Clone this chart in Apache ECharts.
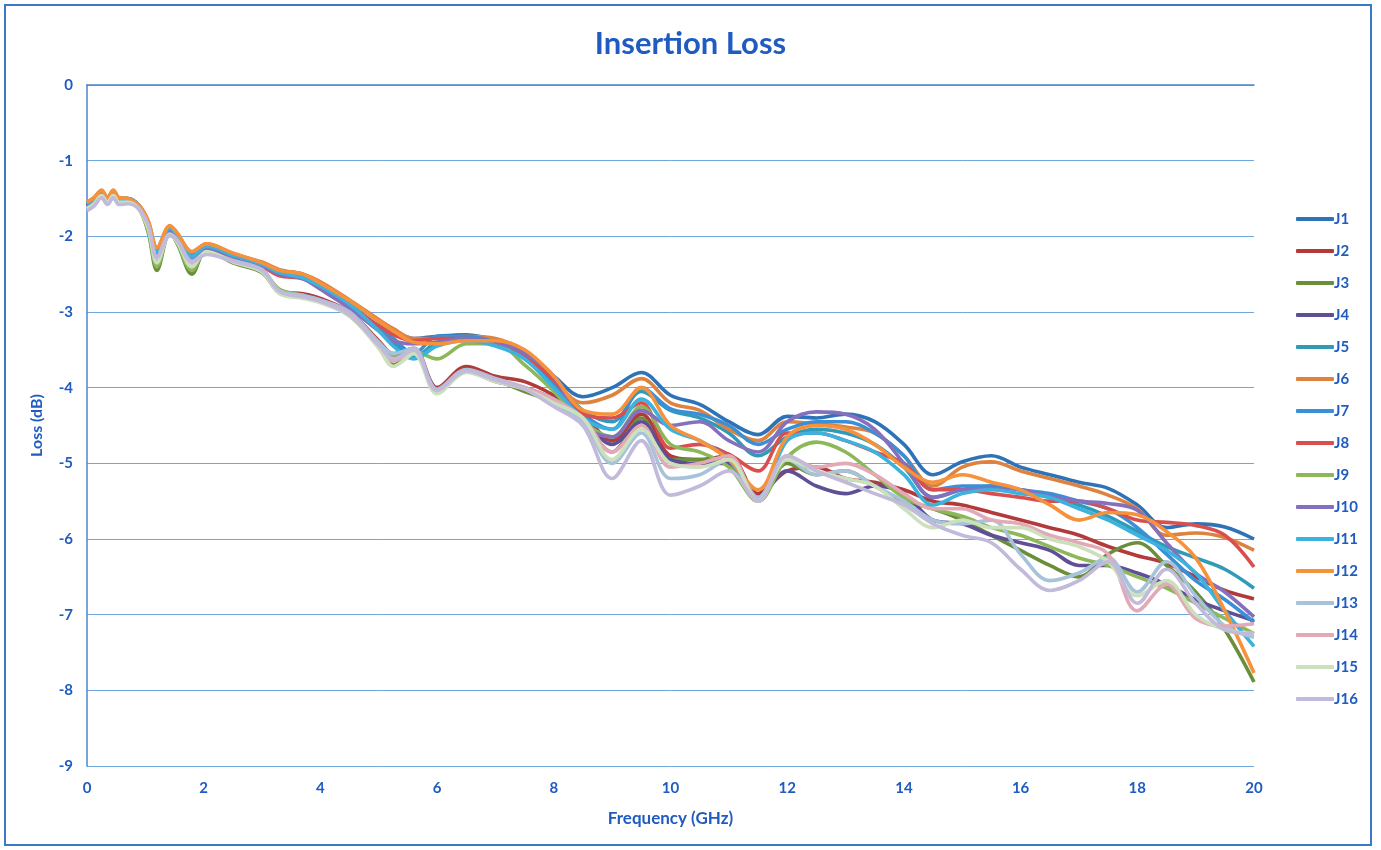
<!DOCTYPE html>
<html><head><meta charset="utf-8">
<script src="https://cdn.jsdelivr.net/npm/echarts@6/dist/echarts.min.js"></script>
<style>html,body{margin:0;padding:0;background:#fff}#c{width:1381px;height:850px}</style>
</head><body><div id="c"></div>
<script>
const freq = [0,0.12,0.25,0.35,0.45,0.55,0.7,0.9,1.05,1.2,1.42,1.55,1.8,2.05, 2.5,3.0,3.3,3.7,4.0,4.5,5.0,5.25,5.6,6.0,6.5,7.0,7.5,8.0, 8.5,9.0,9.5,10.0,10.5,11.0,11.5,12.0,12.5,13.0,13.5,14.0,14.5,15.0,15.5,16.0,16.5,17.0,17.5,18.0,18.5,19.0,19.5,20.0];
const seriesNames = ['J1','J2','J3','J4','J5','J6','J7','J8','J9','J10','J11','J12','J13','J14','J15','J16'];
const J1 = [-1.56,-1.5,-1.4,-1.5,-1.4,-1.5,-1.5,-1.6,-1.82,-2.18,-1.88,-1.98,-2.25,-2.12, -2.25,-2.36,-2.45,-2.5,-2.62,-2.85,-3.12,-3.25,-3.35,-3.32,-3.3,-3.38,-3.55,-3.85, -4.12,-4.0,-3.8,-4.1,-4.22,-4.45,-4.62,-4.38,-4.4,-4.35,-4.45,-4.75,-5.15,-4.98,-4.9,-5.05,-5.15,-5.25,-5.33,-5.55,-5.85,-5.8,-5.84,-6.0];
const J2 = [-1.6,-1.54,-1.44,-1.54,-1.44,-1.54,-1.53,-1.63,-1.9,-2.3,-1.93,-2.05,-2.35,-2.18, -2.3,-2.44,-2.72,-2.76,-2.82,-3.0,-3.38,-3.55,-3.48,-4.0,-3.72,-3.85,-3.92,-4.1, -4.35,-4.7,-4.35,-4.9,-4.95,-4.9,-5.4,-5.1,-5.05,-5.2,-5.25,-5.35,-5.5,-5.55,-5.65,-5.75,-5.85,-5.95,-6.1,-6.22,-6.32,-6.5,-6.68,-6.79];
const J3 = [-1.58,-1.52,-1.42,-1.52,-1.42,-1.52,-1.52,-1.64,-1.95,-2.45,-1.95,-2.1,-2.5,-2.18, -2.35,-2.48,-2.75,-2.8,-2.86,-3.05,-3.45,-3.7,-3.52,-4.05,-3.78,-3.9,-4.05,-4.2, -4.45,-4.85,-4.4,-4.95,-4.95,-5.0,-5.5,-5.0,-5.15,-5.1,-5.3,-5.5,-5.6,-5.75,-5.95,-6.15,-6.35,-6.5,-6.2,-6.05,-6.35,-6.7,-7.2,-7.89];
const J4 = [-1.6,-1.55,-1.45,-1.55,-1.45,-1.55,-1.54,-1.63,-1.9,-2.3,-1.95,-2.06,-2.36,-2.2, -2.32,-2.45,-2.74,-2.78,-2.84,-3.02,-3.42,-3.6,-3.5,-4.02,-3.78,-3.92,-4.0,-4.15, -4.4,-4.75,-4.45,-4.95,-5.0,-5.0,-5.45,-5.1,-5.3,-5.4,-5.3,-5.4,-5.75,-5.8,-5.95,-6.05,-6.15,-6.35,-6.35,-6.45,-6.6,-6.8,-6.95,-7.08];
const J5 = [-1.57,-1.51,-1.41,-1.51,-1.41,-1.51,-1.51,-1.61,-1.85,-2.22,-1.9,-2.0,-2.28,-2.14, -2.26,-2.38,-2.48,-2.54,-2.67,-2.92,-3.22,-3.4,-3.6,-3.4,-3.35,-3.42,-3.6,-3.9, -4.3,-4.45,-4.05,-4.3,-4.4,-4.6,-4.9,-4.65,-4.55,-4.6,-4.75,-5.05,-5.45,-5.35,-5.3,-5.35,-5.45,-5.55,-5.7,-5.9,-6.1,-6.25,-6.4,-6.65];
const J6 = [-1.55,-1.49,-1.39,-1.49,-1.39,-1.49,-1.5,-1.6,-1.8,-2.15,-1.86,-1.96,-2.22,-2.1, -2.23,-2.34,-2.44,-2.5,-2.6,-2.84,-3.1,-3.22,-3.35,-3.35,-3.32,-3.35,-3.52,-3.9, -4.2,-4.1,-3.88,-4.2,-4.3,-4.55,-4.7,-4.45,-4.48,-4.52,-4.6,-4.9,-5.3,-5.05,-4.98,-5.1,-5.2,-5.3,-5.42,-5.6,-5.95,-5.92,-5.98,-6.15];
const J7 = [-1.56,-1.5,-1.4,-1.5,-1.4,-1.5,-1.5,-1.6,-1.83,-2.2,-1.88,-1.98,-2.26,-2.12, -2.24,-2.36,-2.47,-2.52,-2.65,-2.9,-3.2,-3.35,-3.55,-3.32,-3.32,-3.4,-3.58,-3.95, -4.35,-4.55,-4.0,-4.28,-4.35,-4.5,-4.75,-4.55,-4.45,-4.45,-4.6,-4.9,-5.35,-5.3,-5.3,-5.35,-5.4,-5.5,-5.6,-5.85,-6.2,-6.55,-6.8,-7.1];
const J8 = [-1.58,-1.52,-1.42,-1.52,-1.42,-1.52,-1.52,-1.62,-1.86,-2.24,-1.9,-2.02,-2.3,-2.15, -2.28,-2.4,-2.52,-2.56,-2.68,-2.92,-3.18,-3.3,-3.38,-3.35,-3.35,-3.42,-3.58,-3.9, -4.35,-4.4,-4.2,-4.8,-4.75,-4.88,-5.1,-4.6,-4.6,-4.7,-4.85,-5.0,-5.35,-5.35,-5.4,-5.45,-5.5,-5.5,-5.6,-5.75,-5.78,-5.82,-5.95,-6.37];
const J9 = [-1.58,-1.52,-1.43,-1.52,-1.43,-1.52,-1.52,-1.65,-1.93,-2.4,-1.95,-2.1,-2.45,-2.17, -2.3,-2.45,-2.7,-2.78,-2.85,-3.02,-3.4,-3.6,-3.52,-3.62,-3.42,-3.42,-3.7,-4.05, -4.45,-4.65,-4.25,-4.75,-4.85,-5.05,-5.5,-4.92,-4.72,-4.85,-5.15,-5.45,-5.6,-5.7,-5.85,-5.95,-6.1,-6.25,-6.35,-6.5,-6.65,-6.85,-7.05,-7.25];
const J10 = [-1.58,-1.52,-1.42,-1.52,-1.42,-1.52,-1.52,-1.62,-1.86,-2.24,-1.92,-2.03,-2.3,-2.16, -2.27,-2.39,-2.5,-2.56,-2.7,-2.95,-3.25,-3.38,-3.42,-3.4,-3.35,-3.4,-3.55,-3.85, -4.5,-4.65,-4.3,-4.5,-4.45,-4.7,-4.85,-4.45,-4.32,-4.35,-4.55,-5.0,-5.45,-5.35,-5.33,-5.35,-5.44,-5.5,-5.53,-5.62,-6.05,-6.45,-6.7,-7.03];
const J11 = [-1.57,-1.51,-1.41,-1.51,-1.41,-1.51,-1.51,-1.61,-1.84,-2.2,-1.89,-1.99,-2.27,-2.13, -2.25,-2.37,-2.48,-2.55,-2.66,-2.9,-3.25,-3.45,-3.62,-3.45,-3.38,-3.45,-3.62,-4.0, -4.4,-4.55,-4.15,-4.55,-4.7,-4.95,-5.45,-4.7,-4.6,-4.7,-4.85,-5.15,-5.55,-5.4,-5.35,-5.4,-5.45,-5.6,-5.75,-5.95,-6.15,-6.45,-6.95,-7.42];
const J12 = [-1.55,-1.49,-1.39,-1.49,-1.39,-1.49,-1.5,-1.6,-1.8,-2.15,-1.86,-1.96,-2.2,-2.1, -2.22,-2.35,-2.45,-2.5,-2.62,-2.85,-3.12,-3.25,-3.4,-3.42,-3.38,-3.38,-3.5,-3.85, -4.3,-4.35,-4.0,-4.5,-4.7,-4.95,-5.35,-4.65,-4.5,-4.55,-4.75,-5.05,-5.25,-5.15,-5.25,-5.35,-5.55,-5.75,-5.65,-5.68,-5.9,-6.25,-6.95,-7.77];
const J13 = [-1.65,-1.59,-1.48,-1.57,-1.48,-1.57,-1.56,-1.64,-1.86,-2.27,-1.97,-2.05,-2.33,-2.22, -2.32,-2.44,-2.72,-2.78,-2.84,-3.0,-3.4,-3.55,-3.48,-4.02,-3.76,-3.88,-4.0,-4.2, -4.45,-5.0,-4.6,-5.2,-5.15,-4.95,-5.45,-4.95,-5.15,-5.1,-5.3,-5.5,-5.75,-5.8,-5.75,-6.2,-6.55,-6.45,-6.25,-6.7,-6.3,-6.75,-7.15,-7.3];
const J14 = [-1.64,-1.58,-1.47,-1.56,-1.47,-1.56,-1.55,-1.64,-1.87,-2.3,-1.98,-2.06,-2.36,-2.22, -2.33,-2.46,-2.74,-2.8,-2.86,-3.03,-3.45,-3.65,-3.52,-4.05,-3.78,-3.9,-4.0,-4.15, -4.4,-4.85,-4.5,-5.05,-5.0,-4.9,-5.5,-4.9,-5.05,-5.0,-5.15,-5.4,-5.6,-5.6,-5.75,-5.8,-5.95,-6.05,-6.2,-6.95,-6.6,-7.05,-7.15,-7.12];
const J15 = [-1.63,-1.57,-1.46,-1.55,-1.46,-1.55,-1.55,-1.65,-1.9,-2.35,-1.98,-2.08,-2.4,-2.2, -2.34,-2.47,-2.76,-2.82,-2.88,-3.05,-3.48,-3.72,-3.55,-4.08,-3.8,-3.92,-4.02,-4.2, -4.4,-4.95,-4.55,-5.0,-5.05,-4.95,-5.5,-4.95,-5.1,-5.2,-5.3,-5.6,-5.85,-5.75,-5.85,-5.85,-6.0,-6.1,-6.3,-6.75,-6.55,-7.0,-7.2,-7.25];
const J16 = [-1.66,-1.6,-1.49,-1.58,-1.49,-1.58,-1.57,-1.65,-1.86,-2.28,-1.99,-2.06,-2.34,-2.24, -2.33,-2.45,-2.73,-2.8,-2.86,-3.04,-3.44,-3.62,-3.5,-4.04,-3.78,-3.9,-4.02,-4.25, -4.5,-5.2,-4.7,-5.42,-5.3,-5.1,-5.5,-4.9,-5.1,-5.25,-5.4,-5.55,-5.8,-5.95,-6.05,-6.4,-6.68,-6.55,-6.3,-6.85,-6.4,-6.85,-7.2,-7.25];
const yTicks = [0,-1,-2,-3,-4,-5,-6,-7,-8,-9];
const xTicks = [0,2,4,6,8,10,12,14,16,18,20];

const allValues = [J1,J2,J3,J4,J5,J6,J7,J8,J9,J10,J11,J12,J13,J14,J15,J16];
const colors = ['#2E72B8','#B23A3A','#6B8E3A','#5E4F96','#2F9BB8','#DE8240','#3B8FD6','#D94F4F','#8CB85A','#8470BC','#3CB2DE','#F7923C','#A7C3DA','#E2A9B6','#CCE0BE','#C2BADA'];
const txt = '#1F5BC0';
const font = 'Lato, "Open Sans", sans-serif';

const chart = echarts.init(document.getElementById('c'));
chart.setOption({
  backgroundColor: '#ffffff',
  animation: false,
  color: colors,
  title: {
    text: 'Insertion Loss', left: 'center', top: 23,
    textStyle: {color: txt, fontSize: 31, fontWeight: 'bold', fontFamily: font}
  },
  graphic: [{type: 'rect', shape: {x: 5, y: 5, width: 1366, height: 840},
    style: {fill: 'none', stroke: '#3C7AC8', lineWidth: 2}, silent: true}],
  legend: {
    orient: 'vertical', left: 1291, top: 206,
    itemWidth: 38, itemHeight: 4, itemGap: 16,
    icon: 'roundRect',
    data: seriesNames,
    textStyle: {color: txt, fontSize: 15, lineHeight: 16, fontWeight: 'bold', fontFamily: font, padding: [0,0,0,-5]}
  },
  grid: {left: 87, right: 127, top: 85, bottom: 84},
  xAxis: {
    type: 'value', min: 0, max: 20, interval: 2,
    name: 'Frequency (GHz)', nameLocation: 'middle', nameGap: 44,
    nameTextStyle: {color: txt, fontSize: 17, fontWeight: 'bold', fontFamily: font},
    axisLine: {lineStyle: {color: '#4A86CF', width: 1.5}},
    axisTick: {show: false},
    splitLine: {show: false},
    axisLabel: {color: txt, fontSize: 15, fontWeight: 'bold', fontFamily: font, margin: 15,
      formatter: v => xTicks.includes(v) ? String(v) : ''}
  },
  yAxis: {
    type: 'value', min: -9, max: 0, interval: 1,
    name: 'Loss (dB)', nameLocation: 'middle', nameGap: 42, nameRotate: 90,
    nameTextStyle: {color: txt, fontSize: 16, fontWeight: 'bold', fontFamily: font},
    axisLine: {show: true, lineStyle: {color: '#4A86CF', width: 1.5}},
    axisTick: {show: false},
    splitLine: {show: true, lineStyle: {color: '#6FA6DC', width: 1}},
    axisLabel: {color: txt, fontSize: 15, fontWeight: 'bold', fontFamily: font, margin: 14,
      formatter: v => yTicks.includes(v) ? String(v) : ''}
  },
  series: seriesNames.map((n, i) => ({
    name: n, type: 'line', smooth: 0.35, symbol: 'none',
    lineStyle: {width: 3.6, color: colors[i]},
    itemStyle: {color: colors[i]},
    data: freq.map((f, k) => [f, allValues[i][k]])
  }))
});
</script></body></html>
